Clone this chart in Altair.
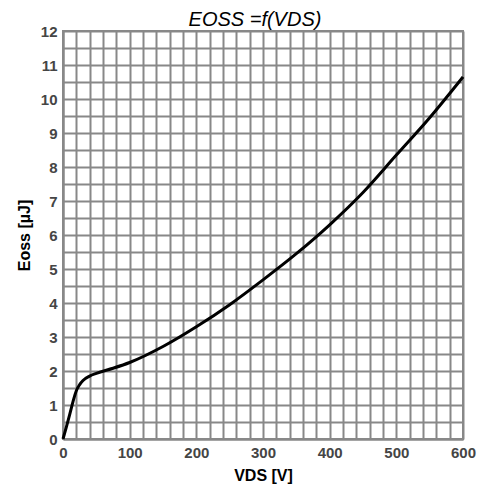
import altair as alt
import pandas as pd

vds = [0, 5, 10, 15, 20, 25, 30, 40, 50, 75, 100, 150, 200, 250, 300, 350, 400, 450, 500, 550, 600]
eoss = [0, 0.35, 0.72, 1.1, 1.42, 1.6, 1.72, 1.85, 1.93, 2.08, 2.25, 2.72, 3.3, 3.95, 4.68, 5.45, 6.3, 7.25, 8.35, 9.45, 10.65]

x_grid = list(range(0, 601, 20))
y_grid = [i * 0.5 for i in range(0, 25)]

df = pd.DataFrame({"vds": vds, "eoss": eoss})

FONT = "Liberation Sans"

chart = alt.Chart(df).mark_line(color="black", strokeWidth=3, interpolate="monotone").encode(
    x=alt.X("vds:Q", scale=alt.Scale(domain=[0, 600], nice=False),
            axis=alt.Axis(values=x_grid, format="d",
                          labelExpr="datum.value % 100 == 0 ? datum.label : ''",
                          title="VDS [V]", grid=True, ticks=False, labelPadding=6,
                          labelFlush=False, labelOverlap=False, titlePadding=7)),
    y=alt.Y("eoss:Q", scale=alt.Scale(domain=[0, 12], nice=False),
            axis=alt.Axis(values=y_grid, format=".0f",
                          labelExpr="datum.value % 1 == 0 ? datum.label : ''",
                          title="Eoss [µJ]", grid=True, ticks=False, labelPadding=6,
                          labelFlush=False, labelOverlap=False, titlePadding=8)),
).properties(
    width=400, height=408,
    title=alt.TitleParams("EOSS =f(VDS)", font=FONT, fontSize=20, fontStyle="italic",
                          fontWeight="normal", color="black", anchor="middle", offset=4,
                          dy=10, dx=-8),
    autosize=alt.AutoSizeParams(type="none"),
    padding={"left": 55, "top": 23, "right": 14, "bottom": 50},
).configure_axis(
    gridColor="#888888", gridWidth=2, gridOpacity=1,
    domainColor="#888888", domainWidth=2,
    labelFont=FONT, labelFontSize=15, labelFontWeight="bold", labelColor="#454545",
    titleFont=FONT, titleFontSize=16, titleFontWeight="bold", titleColor="black",
).configure_view(stroke="#888888", strokeWidth=2)

chart.save("out.html", embed_options={"renderer": "svg", "actions": False})
